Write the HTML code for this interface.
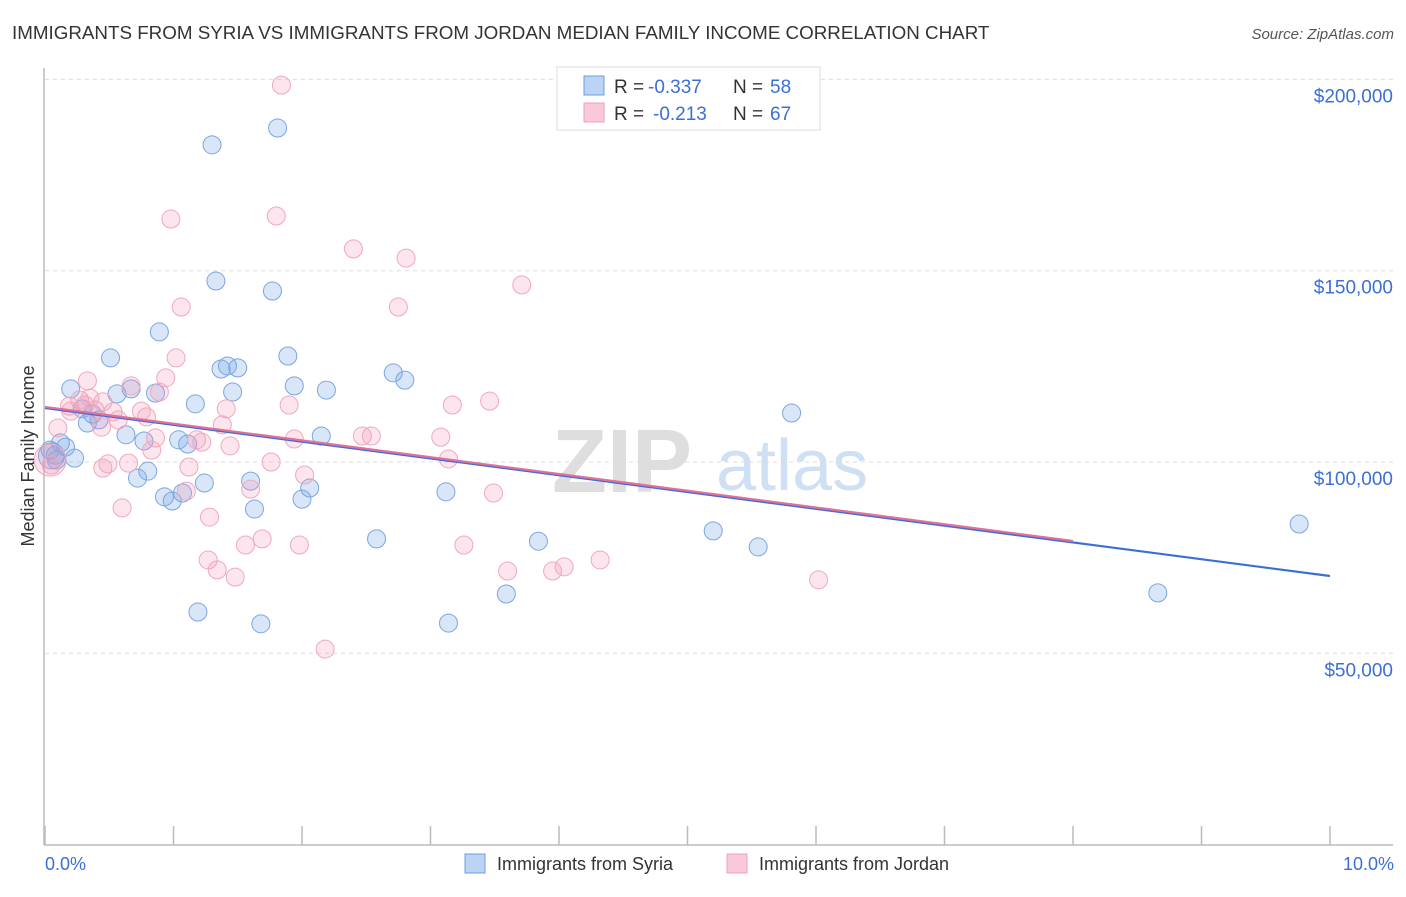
<!DOCTYPE html>
<html><head><meta charset="utf-8"><style>
body{margin:0;background:#fff;font-family:"Liberation Sans",sans-serif;}
svg text{font-family:"Liberation Sans",sans-serif;}
</style></head><body>
<svg id="chart" width="1406" height="892" viewBox="0 0 1406 892" xmlns="http://www.w3.org/2000/svg">
<text x="12" y="39" font-size="18.8" fill="#333">IMMIGRANTS FROM SYRIA VS IMMIGRANTS FROM JORDAN MEDIAN FAMILY INCOME CORRELATION CHART</text>
<text x="1394" y="39" font-size="15" fill="#555" text-anchor="end" font-style="italic">Source: ZipAtlas.com</text>
<text x="552" y="492" font-size="90" font-family="Liberation Serif" fill="#dedede" font-weight="bold">ZIP</text>
<text x="716" y="490" font-size="72" fill="#cfdff4">atlas</text>
<g id="grid"></g>
<g id="axes"></g>
<g id="pts"></g>
<g id="lines"></g>
<text transform="translate(34,456) rotate(-90)" font-size="18" fill="#333" text-anchor="middle">Median Family Income</text>
<g>
<rect x="557" y="67" width="263" height="63" fill="#fff" stroke="#ddd"/>
<rect x="584" y="76" width="20" height="19" fill="#bcd3f5" stroke="#6d9de0"/>
<rect x="584" y="103" width="20" height="19" fill="#f9c9d8" stroke="#eea0b8"/>
<text x="614" y="93" font-size="19" fill="#333">R =</text>
<text x="648" y="93" font-size="19" fill="#3b6fd4">-0.337</text>
<text x="733" y="93" font-size="19" fill="#333">N =</text>
<text x="770" y="93" font-size="19" fill="#3b6fd4">58</text>
<text x="614" y="120" font-size="19" fill="#333">R =</text>
<text x="653" y="120" font-size="19" fill="#3b6fd4">-0.213</text>
<text x="733" y="120" font-size="19" fill="#333">N =</text>
<text x="770" y="120" font-size="19" fill="#3b6fd4">67</text>
</g>
<g>
<rect x="465" y="854" width="20" height="19" fill="#bcd3f5" stroke="#6d9de0"/>
<text x="497" y="870" font-size="18" fill="#333">Immigrants from Syria</text>
<rect x="727" y="854" width="20" height="19" fill="#f9c9d8" stroke="#eea0b8"/>
<text x="759" y="870" font-size="18" fill="#333">Immigrants from Jordan</text>
</g>
<text x="45" y="870" font-size="18" fill="#3b6fd4">0.0%</text>
<text x="1394" y="870" font-size="18" fill="#3b6fd4" text-anchor="end">10.0%</text>
</svg>
<script>
const yTicks=[50000,100000,150000,200000];
const yTickLabels=["$50,000","$100,000","$150,000","$200,000"];
const syriaX=[1.30,1.81,1.33,1.77,0.89,0.51,1.89,1.42,1.50,1.37,2.71,2.80,0.20,1.94,2.19,0.67,0.86,0.56,1.46,1.17,5.81,0.29,0.37,0.42,0.33,0.63,2.15,1.04,1.11,0.77,0.12,0.16,0.04,0.08,0.23,0.80,0.72,1.60,1.24,2.06,1.07,0.93,0.99,2.00,3.12,1.63,5.20,2.58,3.84,5.55,9.76,1.19,3.59,8.66,1.68,3.14,0.05,0.09];
const syriaY=[182900,187300,147300,144700,134000,127200,127700,125100,124600,124300,123300,121400,119100,119900,118800,119100,118000,117800,118300,115200,112800,113900,112500,111000,110200,107100,106800,105800,104700,105500,105000,103900,103100,101800,101000,97600,95800,95000,94500,93200,91900,90900,89800,90300,92200,87700,82000,79900,79300,77800,83800,60800,65500,65800,57700,57900,101600,100500];
const jordanX=[1.84,0.98,1.80,2.40,2.81,3.71,1.06,2.75,1.02,0.94,0.33,0.67,0.89,0.27,0.19,0.45,0.53,0.79,1.90,3.17,3.46,1.41,0.75,1.38,0.44,2.47,2.54,3.08,1.94,1.18,1.22,0.86,1.44,0.10,3.14,0.05,0.49,0.45,0.65,1.76,1.12,2.02,3.49,1.10,1.60,0.60,1.28,1.69,1.56,1.98,3.26,1.27,1.34,1.48,3.60,3.95,4.04,4.32,6.02,2.18,0.20,0.31,0.39,0.83,0.35,0.57,0.04];
const jordanY=[198500,163500,164300,155700,153300,146300,140500,140500,127200,122000,121200,119900,118300,116200,114600,115700,113100,111800,114900,114900,115900,113900,113300,109700,109100,106800,106800,106500,106000,105800,105200,106300,104200,108900,100800,99200,99500,98400,99700,100000,98700,96600,91900,92400,92900,88000,85600,79900,78300,78300,78300,74400,71800,69900,71500,71500,72600,74400,69200,51100,113300,114900,113600,103100,116700,111000,100500];
const syriaTrend=[[0,114100],[10,70200]];
const jordanTrend=[[0,114400],[8,79350]];
const NS='http://www.w3.org/2000/svg';
function xs(p){return 45+p*128.5;}
function ys(v){return 844.6-v*191.3/50000;}
function mk(t,a,parent){const e=document.createElementNS(NS,t);for(const k in a)e.setAttribute(k,a[k]);parent.appendChild(e);return e;}
const grid=document.getElementById('grid'),axes=document.getElementById('axes'),pts=document.getElementById('pts'),lines=document.getElementById('lines');
yTicks.forEach((v,i)=>{
 const l=mk('line',{x1:45,x2:1393,y1:ys(v),y2:ys(v),stroke:'#ddd','stroke-dasharray':'4,4'},grid);
 
 
 const t=mk('text',{x:1393,y:ys(v)+23,'font-size':19,fill:'#3b6fd4','text-anchor':'end'},grid);
 t.textContent=yTickLabels[i];
 
 
});
const ya=mk('line',{x1:44,x2:44,y1:68,y2:845,stroke:'#bbb','stroke-width':1.5},axes);


const xa=mk('line',{x1:44,x2:1393,y1:845,y2:845,stroke:'#bbb','stroke-width':1.5},axes);


for(let i=0;i<=10;i++){
 const tk=mk('line',{x1:xs(i),x2:xs(i),y1:826,y2:845,stroke:'#bbb','stroke-width':1.5},axes);
 
 
}
function drawPts(X,Y,fill,stroke,name,bigIdx,bigR){
 X.forEach((p,i)=>{
  const r=(i===bigIdx)?bigR:9;
  const c=mk('circle',{cx:xs(p),cy:ys(Y[i]),r:r,fill:fill,stroke:stroke,'stroke-width':1},pts);
  
  
 });
}
drawPts(syriaX,syriaY,'rgba(120,165,230,0.28)','#7aa6e3','syria-point',56,13);
drawPts(jordanX,jordanY,'rgba(242,150,180,0.25)','#f0a8be','jordan-point',66,16);
const bl=mk('line',{x1:xs(syriaTrend[0][0]),y1:ys(syriaTrend[0][1]),x2:xs(syriaTrend[1][0]),y2:ys(syriaTrend[1][1]),stroke:'#3b6fd4','stroke-width':2.2},lines);


const pl=mk('line',{x1:xs(jordanTrend[0][0]),y1:ys(jordanTrend[0][1]),x2:xs(jordanTrend[1][0]),y2:ys(jordanTrend[1][1]),stroke:'#e0709a','stroke-width':2.2},lines);


</script>
</body></html>
